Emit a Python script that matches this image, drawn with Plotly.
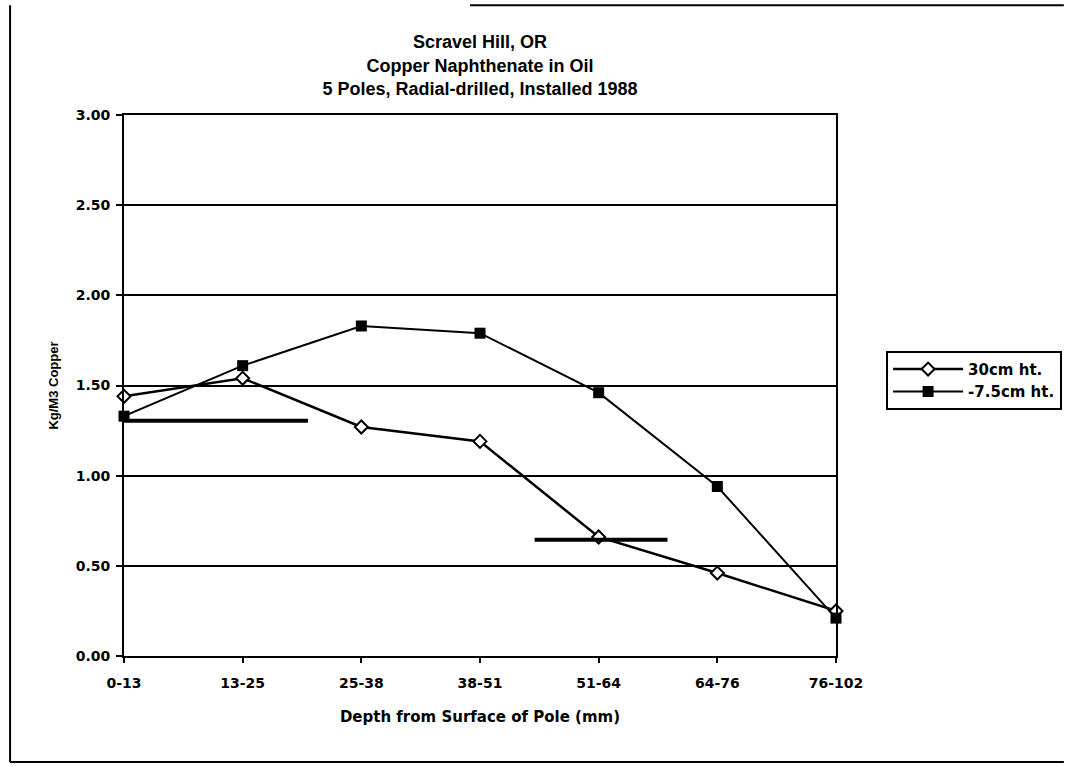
import plotly.graph_objects as go

# Depth bands (mm) and copper retention (kg/m3)
depth_bands = ['0-13', '13-25', '25-38', '38-51', '51-64', '64-76', '76-102']
band_pos = [0, 1, 2, 3, 4, 5, 6]
copper_30cm = [1.44, 1.54, 1.27, 1.19, 0.66, 0.46, 0.25]
copper_m75cm = [1.33, 1.61, 1.83, 1.79, 1.46, 0.94, 0.21]

# Hand-drawn horizontal marks on the original
mark1_x = [0, 1.55]
mark1_y = [1.305, 1.305]
mark2_x = [3.46, 4.58]
mark2_y = [0.644, 0.644]

y_ticks = [0, 0.5, 1.0, 1.5, 2.0, 2.5, 3.0]

arial = 'Liberation Sans, Arial, sans-serif'
wide = 'DejaVu Sans, Verdana, sans-serif'

fig = go.Figure()

fig.add_trace(go.Scatter(
    x=band_pos, y=copper_30cm,
    mode='lines+markers',
    name='<b>30cm ht.</b>',
    line=dict(color='black', width=2.5),
    marker=dict(symbol='diamond', size=10, color='white',
                line=dict(color='black', width=2)),
    cliponaxis=False,
))

fig.add_trace(go.Scatter(
    x=band_pos, y=copper_m75cm,
    mode='lines+markers',
    name='<b>-7.5cm ht.</b>',
    line=dict(color='black', width=2),
    marker=dict(symbol='square', size=11, color='black'),
    cliponaxis=False,
))

# the two thick horizontal marks
for mx, my in [(mark1_x, mark1_y), (mark2_x, mark2_y)]:
    fig.add_trace(go.Scatter(
        x=mx, y=my, mode='lines',
        line=dict(color='black', width=4),
        showlegend=False, hoverinfo='skip',
        cliponaxis=False,
    ))

# scanned page frame
frame = [
    dict(x0=-0.160, x1=-0.160, y0=-0.196, y1=1.203),
    dict(x0=-0.160, x1=1.32, y0=-0.196, y1=-0.196),
    dict(x0=0.486, x1=1.32, y0=1.203, y1=1.203),
]
for f in frame:
    fig.add_shape(type='line', xref='paper', yref='paper',
                  line=dict(color='black', width=2), **f)

fig.update_layout(
    width=1065, height=766,
    paper_bgcolor='white', plot_bgcolor='white',
    font=dict(family=arial, color='black', size=13),
    margin=dict(l=124, r=229, t=115, b=110),
    title=dict(
        text='<b>Scravel Hill, OR<br>Copper Naphthenate in Oil<br>5 Poles, Radial-drilled, Installed 1988</b>',
        x=0.5, xref='paper', xanchor='center',
        y=0.937, yanchor='top',
        font=dict(size=18, family=arial),
    ),
    xaxis=dict(
        range=[0, 6],
        tickmode='array', tickvals=band_pos,
        ticktext=['<b>%s</b>' % b for b in depth_bands],
        tickfont=dict(family=wide, size=14),
        showgrid=False, zeroline=False,
        showline=True, linecolor='black', linewidth=2, mirror=True,
        ticks='outside', ticklen=5, tickcolor='black', tickwidth=1.5,
        ticklabelstandoff=8,
        title=dict(text='<b>Depth from Surface of Pole (mm)</b>',
                   font=dict(size=15, family=wide), standoff=22),
    ),
    yaxis=dict(
        range=[0, 3],
        tickmode='array', tickvals=y_ticks,
        ticktext=['<b>%.2f</b>' % v for v in y_ticks],
        tickfont=dict(family=wide, size=14),
        showgrid=True, gridcolor='black', gridwidth=1.5,
        zeroline=False,
        showline=True, linecolor='black', linewidth=2, mirror=True,
        ticks='outside', ticklen=6, tickcolor='black', tickwidth=1.5,
        ticklabelstandoff=3,
        title=dict(text='<b>Kg/M3 Copper</b>', font=dict(size=13), standoff=14),
    ),
    legend=dict(
        xref='container', yref='container',
        x=0.832, y=0.542, xanchor='left', yanchor='top',
        bordercolor='black', borderwidth=2,
        font=dict(size=15, family=wide),
        itemwidth=70,
    ),
    showlegend=True,
)

# drop the page's default body margin so the figure fills the window exactly
fig.write_html("out.html", config={'displayModeBar': False},
               post_script="document.body.style.margin='0px';")
